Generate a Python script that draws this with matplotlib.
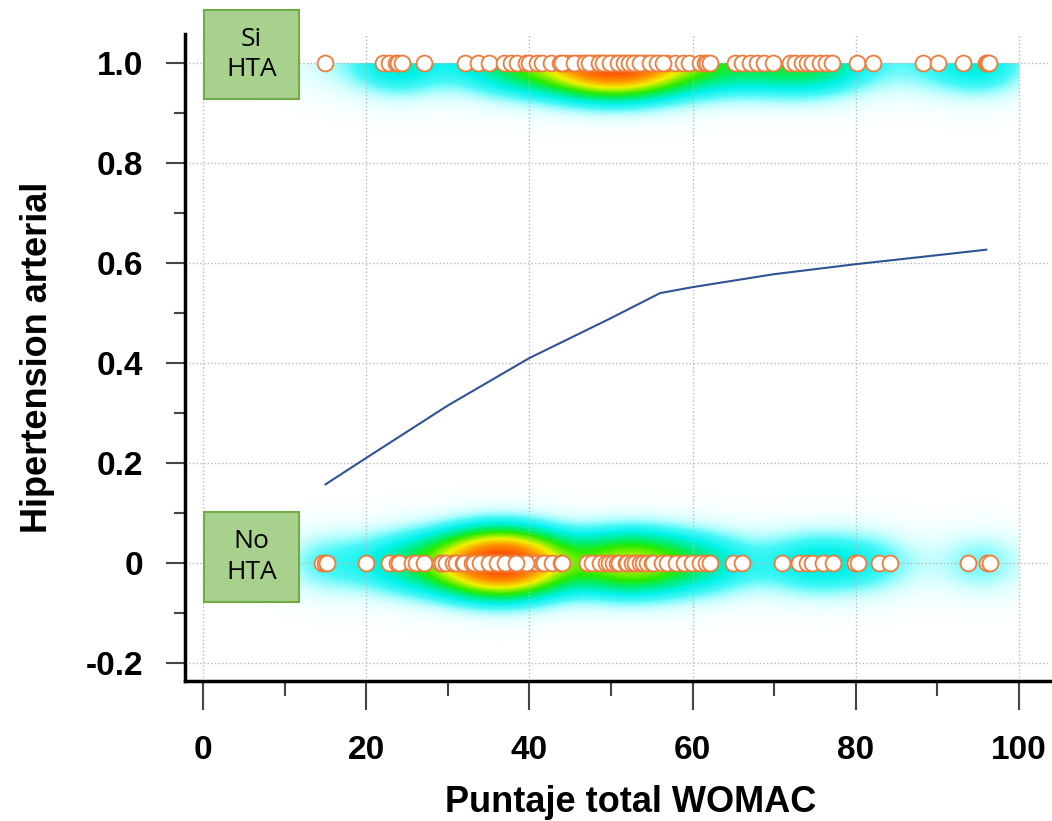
import numpy as np
import matplotlib.pyplot as plt
from matplotlib.colors import LinearSegmentedColormap
from matplotlib.patches import Rectangle

# Puntaje WOMAC de los pacientes con HTA (y = 1)
womac_si = [15.0, 22.0, 22.8, 23.7, 23.9, 24.4, 27.1, 32.1, 33.7, 35.0, 36.9, 37.8,
            38.5, 39.6, 40.0, 40.9, 41.6, 42.7, 43.7, 44.5, 45.2, 45.9, 46.5, 47.0,
            47.6, 48.0, 48.3, 48.8, 49.2, 49.6, 50.2, 50.5, 51.0, 51.4, 51.8, 52.5,
            53.0, 53.3, 54.0, 54.4, 55.1, 56.0, 56.9, 57.8, 58.8, 59.6, 60.9, 61.5,
            61.8, 62.1, 65.2, 66.1, 67.0, 67.9, 68.8, 69.8, 71.9, 72.5, 73.4, 74.0,
            74.7, 75.6, 76.4, 77.1, 80.2, 82.1, 88.2, 90.1, 93.1, 96.0, 96.1, 96.2, 96.3,
            44.0, 45.5, 46.8, 47.3, 48.5, 49.0, 49.9, 50.8, 51.6, 52.2, 52.8, 53.6, 54.8,
            55.6, 56.4]
# Puntaje WOMAC de los pacientes sin HTA (y = 0)
womac_no = [14.6, 15.0, 15.2, 20.0, 22.8, 23.8, 24.0, 25.6, 26.1, 27.1, 29.0, 29.3,
            29.8, 30.6, 31.0, 31.8, 32.6, 33.5, 34.5, 35.1, 35.3, 36.1, 36.7, 36.9,
            37.5, 37.8, 38.2, 38.5, 39.0, 39.4, 39.8, 40.2, 40.6, 40.9, 41.6, 41.8,
            42.8, 43.9, 44.0, 47.0, 47.7, 48.6, 49.4, 49.8, 50.2, 50.7, 51.0, 51.9,
            52.0, 52.6, 52.9, 53.5, 53.9, 54.4, 55.0, 55.1, 56.2, 56.9, 58.0, 59.0,
            59.9, 60.9, 61.7, 62.1, 64.9, 66.1, 71.0, 73.1, 74.0, 74.7, 76.0, 77.2,
            79.9, 80.3, 82.9, 84.2, 93.7, 96.1, 96.4,
            32.0, 33.0, 33.8, 34.2, 34.8, 35.5, 35.8, 36.4, 37.2, 38.0, 38.8, 39.6,
            33.2, 34.0, 35.0, 36.0, 37.0, 38.3]

# Curva de probabilidad ajustada
curva_x = [15, 20, 30, 40, 50, 56, 60, 70, 80, 90, 96]
curva_y = [0.157, 0.21, 0.315, 0.41, 0.49, 0.54, 0.552, 0.578, 0.598, 0.616, 0.627]

xticks = [0, 20, 40, 60, 80, 100]
yticks = [-0.2, 0.0, 0.2, 0.4, 0.6, 0.8, 1.0]
ytick_labels = ['-0.2', '0', '0.2', '0.4', '0.6', '0.8', '1.0']

# mapa de colores tipo "jet" con transparencia en la parte baja
cmap = LinearSegmentedColormap.from_list('dens', [
    (0.00, (0.85, 1.00, 1.00, 0.0)),
    (0.08, (0.70, 1.00, 1.00, 0.45)),
    (0.18, (0.20, 0.97, 0.97, 0.9)),
    (0.26, (0.00, 0.95, 0.92, 1.0)),
    (0.37, (0.00, 0.93, 0.45, 1.0)),
    (0.46, (0.15, 0.92, 0.00, 1.0)),
    (0.62, (0.95, 0.95, 0.00, 1.0)),
    (0.78, (1.00, 0.55, 0.00, 1.0)),
    (1.00, (1.00, 0.22, 0.00, 1.0)),
])


def densidad(valores, gx, bw=3.8):
    v = np.asarray(valores)[:, None]
    d = np.exp(-0.5 * ((gx[None, :] - v) / bw) ** 2).sum(axis=0)
    return d / d.max()


fig = plt.figure(figsize=(10.52, 8.21), dpi=100)
ax = fig.add_axes([0.176, 0.171, 0.822, 0.787])

gx = np.linspace(0, 100, 600)
sig = 0.05

# densidad sin HTA (simétrica en torno a 0)
gy = np.linspace(-0.16, 0.16, 220)
perfil = np.exp(-0.5 * (gy / sig) ** 2)
dn = densidad(womac_no, gx)[None, :] ** 0.75 * perfil[:, None]
ax.imshow(dn, extent=[0, 100, -0.16, 0.16], origin='lower', aspect='auto',
          cmap=cmap, vmin=0, vmax=1, interpolation='bilinear', zorder=0.5)

# densidad con HTA (solo por debajo de 1)
gy2 = np.linspace(-0.16, 0, 120)
perfil2 = np.exp(-0.5 * (gy2 / sig) ** 2)
ds = densidad(womac_si, gx)[None, :] ** 0.75 * perfil2[:, None]
ax.imshow(ds, extent=[0, 100, 0.84, 1.0], origin='lower', aspect='auto',
          cmap=cmap, vmin=0, vmax=1, interpolation='bilinear', zorder=0.5)

ax.plot(curva_x, curva_y, color='#2f5496', lw=1.5, zorder=2)

ax.scatter(womac_si, np.ones(len(womac_si)), s=130, facecolor='white',
           edgecolor='#ec7c3c', linewidth=1.3, zorder=3)
ax.scatter(womac_no, np.zeros(len(womac_no)), s=130, facecolor='white',
           edgecolor='#ec7c3c', linewidth=1.3, zorder=3)

ax.set_xlim(-2.2, 103.8)
ax.set_ylim(-0.236, 1.058)
ax.set_xticks(xticks)
ax.set_xticks(np.arange(10, 100, 20), minor=True)
ax.set_yticks(yticks)
ax.set_yticklabels(ytick_labels)
ax.set_yticks(np.arange(-0.1, 1.0, 0.2), minor=True)

tick_font = dict(family='Liberation Sans', weight='bold', size=24)
for lab in ax.get_xticklabels() + ax.get_yticklabels():
    lab.set_fontproperties(tick_font)

ax.tick_params(axis='x', which='major', length=21, width=1.5, pad=18, color='#444444')
ax.tick_params(axis='x', which='minor', length=11, width=1.5, color='#444444')
ax.tick_params(axis='y', which='major', length=14, width=1.5, pad=16, color='#444444')
ax.tick_params(axis='y', which='minor', length=8, width=1.5, color='#444444')

ax.grid(True, which='major', linestyle=':', color='#b8b8b8', linewidth=1)
for s in ['top', 'right']:
    ax.spines[s].set_visible(False)
for s in ['left', 'bottom']:
    ax.spines[s].set_linewidth(2.5)

ax.set_xlabel('Puntaje total WOMAC', fontsize=26, fontweight='bold',
              family='Liberation Sans')
ax.set_ylabel('Hipertension arterial', fontsize=26, fontweight='bold',
              family='Liberation Sans', labelpad=22)
ax.xaxis.set_label_coords(0.515, -0.162)

# cajas de etiqueta
for y0, y1, txt in [(0.928, 1.108, 'Si\nHTA'), (-0.078, 0.102, 'No\nHTA')]:
    ax.add_patch(Rectangle((0.1, y0), 11.7, y1 - y0, facecolor='#a9d18e',
                           edgecolor='#70ad47', linewidth=1.5, clip_on=False, zorder=4))
    ax.text(5.95, (y0 + y1) / 2, txt, ha='center', va='center', fontsize=19,
            family='Open Sans', linespacing=1.3, zorder=5, clip_on=False)

plt.savefig('out.png', dpi=100)
